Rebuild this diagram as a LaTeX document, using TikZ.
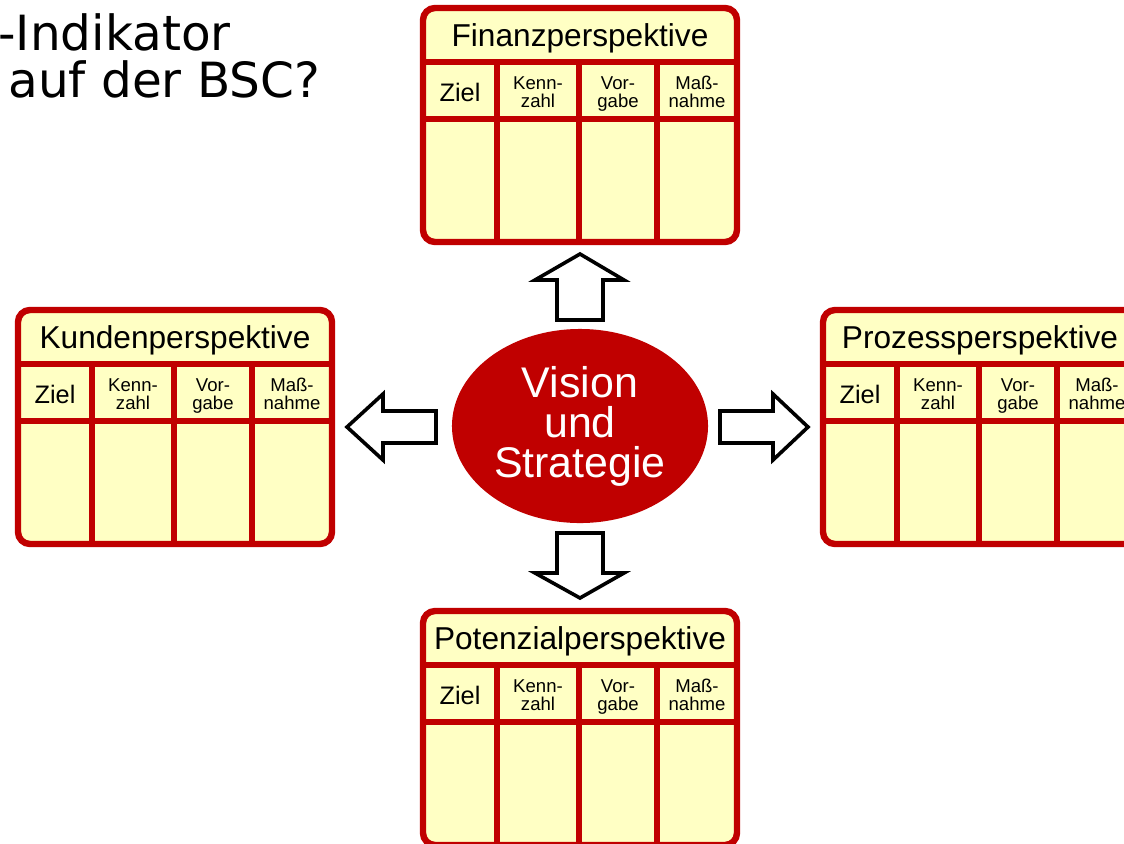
\documentclass[tikz,border=0pt]{standalone}
\usepackage{fontspec}
\setmainfont{Liberation Sans}
\newfontfamily\verdana{DejaVu Sans}
\usepackage{tikz}
\usetikzlibrary{shapes.geometric}

\definecolor{bscred}{RGB}{192,0,0}
\definecolor{bscyellow}{RGB}{255,255,196}

\begin{document}
\begin{tikzpicture}[x=0.025cm,y=-0.025cm,
    box/.style={draw=bscred,fill=bscyellow,line width=0.16cm,rounded corners=0.3cm},
    rule/.style={draw=bscred,line width=0.16cm},
    ttl/.style={anchor=base,inner sep=0pt,font=\fontsize{22.5}{24}\selectfont},
    hdr/.style={anchor=base,inner sep=0pt,font=\fontsize{18}{20}\selectfont},
    sub/.style={anchor=base,inner sep=0pt,align=center,font=\fontsize{13.2}{12.3}\selectfont},
    blockarrow/.style={draw=black,fill=white,line width=0.09cm,line join=miter}]
    \useasboundingbox (0,0) rectangle (1124,843);

    % question text, cut off at the left
    \node[anchor=base west,inner sep=0pt,font=\verdana\fontsize{34.5}{34}\selectfont] (q1) at (-2,50) {-Indikator};
    \node[anchor=base west,inner sep=0pt,font=\verdana\fontsize{34.5}{34}\selectfont] (q2) at (8,97) {auf der BSC?};

    % the four perspectives
    \foreach \nm/\bx/\by/\txt in {fin/420/5/Finanzperspektive,kun/15/307/Kundenperspektive,
                                 pro/820/307/Prozessperspektive,pot/420/608/Potenzialperspektive} {
      \begin{scope}[shift={(\bx,\by)}]
        \draw[box] (3,3) rectangle (317,237);
        \draw[rule] (3,57) -- (317,57) (3,114) -- (317,114)
          (77,57) -- (77,237) (159,57) -- (159,237) (237,57) -- (237,237);
        \node[ttl] (\nm-title) at (160,41) {\txt};
        \node[hdr] (\nm-ziel) at (40,96) {Ziel};
        \node[sub] (\nm-kenn) at (118,102) {Kenn-\\zahl};
        \node[sub] (\nm-vor) at (198,102) {Vor-\\gabe};
        \node[sub] (\nm-mass) at (277,102) {Maß-\\nahme};
      \end{scope}
    }

    % centre
    \node[ellipse,fill=bscred,text=white,inner sep=0pt,minimum width=6.4cm,minimum height=4.85cm,
      align=center,font=\fontsize{30.5}{28.5}\selectfont] (vis) at (580,426) {Vision\\und\\Strategie};

    \draw[blockarrow] (557,320) -- (557,280) -- (535,280) -- (580,254) -- (624,280) -- (603,280) -- (603,320) -- cycle;
    \draw[blockarrow] (557,533) -- (557,573) -- (535,573) -- (580,598) -- (624,573) -- (603,573) -- (603,533) -- cycle;
    \draw[blockarrow] (436,411) -- (383,411) -- (383,394) -- (347,427) -- (383,460) -- (383,443) -- (436,443) -- cycle;
    \draw[blockarrow] (720,411) -- (773,411) -- (773,394) -- (808,427) -- (773,460) -- (773,443) -- (720,443) -- cycle;
\end{tikzpicture}
\end{document}
